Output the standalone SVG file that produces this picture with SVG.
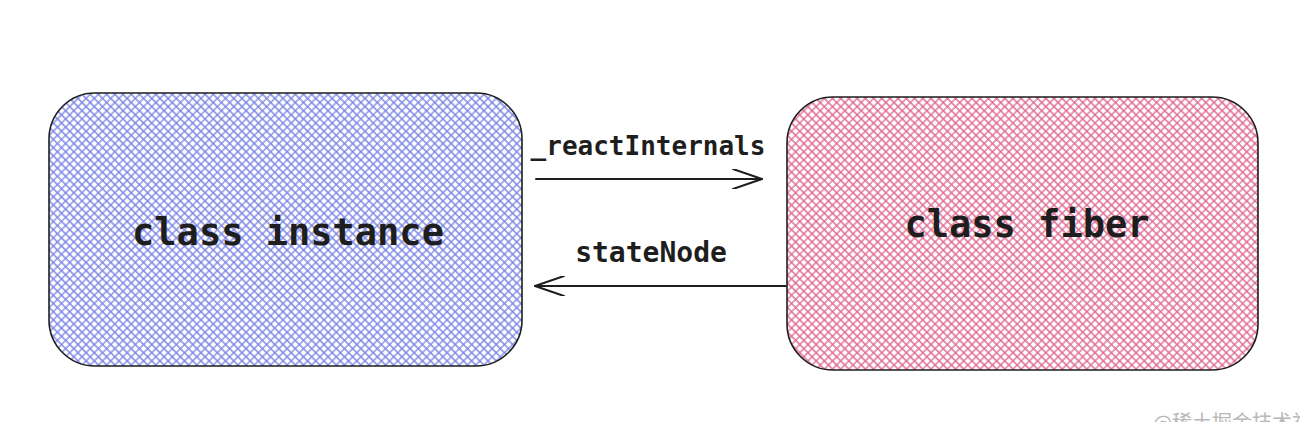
<svg xmlns="http://www.w3.org/2000/svg" width="1300" height="422" viewBox="0 0 1300 422">
  <defs>
    <pattern id="hatchBlue" patternUnits="userSpaceOnUse" width="5.8" height="5.8" patternTransform="rotate(45)">
      <path d="M0 2.9 H5.8 M2.9 0 V5.8" stroke="#7883e4" stroke-width="1.3" fill="none"/>
    </pattern>
    <pattern id="hatchPink" patternUnits="userSpaceOnUse" width="5.8" height="5.8" patternTransform="rotate(45)">
      <path d="M0 2.9 H5.8 M2.9 0 V5.8" stroke="#df6690" stroke-width="1.3" fill="none"/>
    </pattern>
    <marker id="open" viewBox="-12 0 32 20" refX="19" refY="10" markerWidth="32" markerHeight="20" markerUnits="userSpaceOnUse" orient="auto">
      <path d="M-10 0 L19 10 L-10 20" fill="none" stroke="#1e1e1e" stroke-width="2" stroke-linecap="round" stroke-linejoin="round"/>
    </marker>
    <style>
      .box { stroke: #1e1e1e; stroke-width: 1.6; }
      .node-label { font-family: "DejaVu Sans Mono", "Liberation Mono", monospace; font-size: 37px; font-weight: bold; fill: #1e1e1e; text-anchor: middle; }
      .edge-label { font-family: "DejaVu Sans Mono", "Liberation Mono", monospace; font-size: 26px; font-weight: bold; fill: #1e1e1e; text-anchor: middle; }
      .edge { stroke: #1e1e1e; stroke-width: 2; fill: none; stroke-linecap: round; }
      .wm { font-family: "Noto Sans CJK SC", "Liberation Sans", sans-serif; font-size: 20px; fill: #b8b8b8; }
    </style>
  </defs>
  <rect width="1300" height="422" fill="#ffffff"/>

  <g id="node-class-instance">
    <rect class="box" x="49" y="93" width="473" height="273" rx="46" ry="46" fill="url(#hatchBlue)"/>
    <text class="node-label" x="288" y="245">class instance</text>
  </g>

  <g id="node-class-fiber">
    <rect class="box" x="787" y="97" width="471" height="273" rx="46" ry="46" fill="url(#hatchPink)"/>
    <text class="node-label" x="1027" y="237">class fiber</text>
  </g>

  <g id="connectors">
    <line class="edge" x1="536" y1="179" x2="762" y2="179" marker-end="url(#open)"/>
    <text class="edge-label" x="648" y="155">_reactInternals</text>
    <line class="edge" x1="786" y1="286" x2="535" y2="286" marker-end="url(#open)"/>
    <text class="edge-label" x="651" y="262" style="font-size:28px">stateNode</text>
  </g>

  <text class="wm" x="1153" y="430">@稀土掘金技术社区</text>
</svg>
